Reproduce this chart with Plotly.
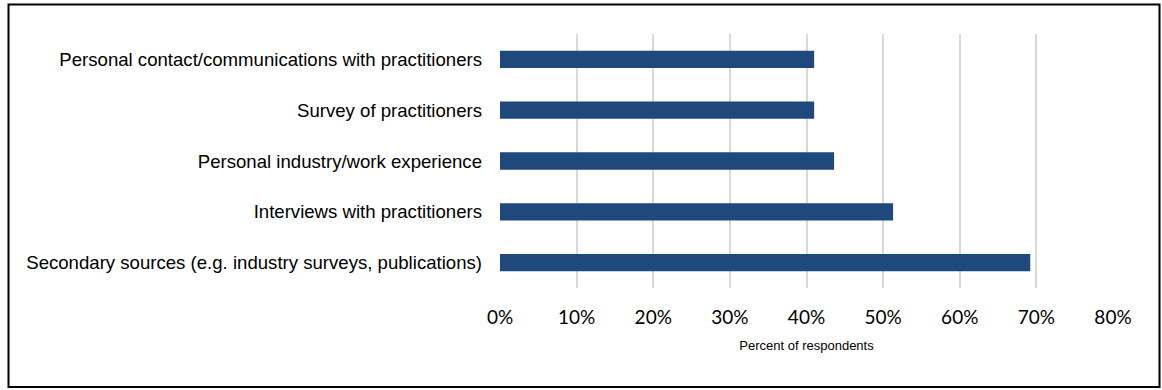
import plotly.graph_objects as go

# Sources of information, listed top to bottom as shown
categories = [
    "Personal contact/communications with practitioners",
    "Survey of practitioners",
    "Personal industry/work experience",
    "Interviews with practitioners",
    "Secondary sources (e.g. industry surveys, publications)",
]
percent_respondents = [41.0, 41.0, 43.6, 51.3, 69.2]
x_ticks = [0, 10, 20, 30, 40, 50, 60, 70, 80]

BAR_COLOR = "#1F497D"
GRID_COLOR = "#D9D9D9"

fig = go.Figure(
    go.Bar(
        x=percent_respondents,
        y=categories,
        orientation="h",
        width=0.34,
        marker=dict(color=BAR_COLOR, line=dict(width=0)),
        hovertemplate="%{y}: %{x:.1f}%<extra></extra>",
    )
)

# plot area geometry (pixels)
W, H = 1162, 390
L, R, T, B = 500, 49, 33.5, 101.5
pw = W - L - R
ph = H - T - B

def px_x(px):
    return (px - L) / pw

def px_y(py):
    return (H - B - py) / ph

fig.update_layout(
    width=W,
    height=H,
    margin=dict(l=L, r=R, t=T, b=B, pad=0),
    paper_bgcolor="white",
    plot_bgcolor="white",
    showlegend=False,
    xaxis=dict(
        range=[0, 80],
        tickvals=x_ticks,
        ticktext=[f"{v}%" for v in x_ticks],
        showgrid=True,
        gridcolor=GRID_COLOR,
        gridwidth=1.5,
        zeroline=False,
        showline=False,
        ticks="",
        ticklabelstandoff=16,
        tickfont=dict(family="Lato, Open Sans, sans-serif", size=19, color="#000000"),
        title=dict(
            text="Percent of respondents",
            font=dict(family="Liberation Sans Narrow, Arial Narrow, Liberation Sans, sans-serif",
                      size=13, color="#000000"),
            standoff=13,
        ),
        fixedrange=True,
    ),
    yaxis=dict(
        autorange="reversed",
        showgrid=False,
        zeroline=False,
        showline=False,
        ticks="",
        ticklabelstandoff=17,
        tickfont=dict(family="Liberation Sans, Arial, sans-serif", size=18.6, color="#000000"),
        fixedrange=True,
    ),
    shapes=[
        dict(
            type="rect",
            xref="paper",
            yref="paper",
            x0=px_x(8.5),
            x1=px_x(1159.5),
            y0=px_y(388),
            y1=px_y(4),
            line=dict(color="#000000", width=2),
            fillcolor="rgba(0,0,0,0)",
            layer="above",
        )
    ],
)

fig.write_html("out.html")
